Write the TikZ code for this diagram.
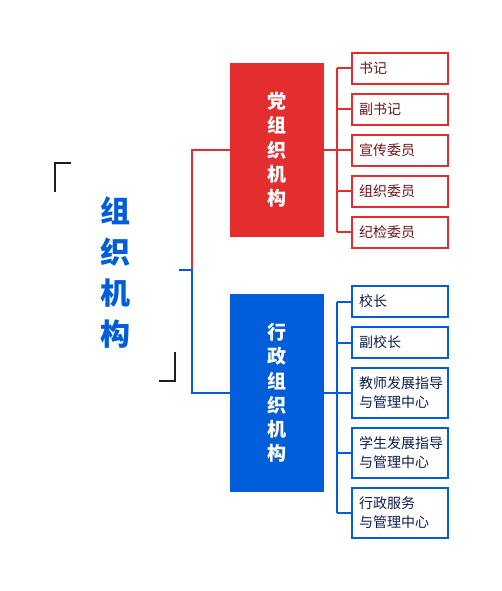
\documentclass[tikz,border=0pt]{standalone}
\usepackage{fontspec}
\setmainfont{Noto Sans CJK SC}
\usetikzlibrary{positioning,calc}
\definecolor{partyred}{RGB}{227,45,47}
\definecolor{adminblue}{RGB}{0,94,218}
\definecolor{partyink}{RGB}{110,20,25}
\definecolor{adminink}{RGB}{15,30,75}
\definecolor{bracketc}{RGB}{30,30,30}
\tikzset{
  headbox/.style={minimum width=94pt, inner sep=0pt, align=center, text=white,
                  font=\fontsize{19}{24.3}\selectfont\bfseries},
  partyhead/.style={headbox, fill=partyred, minimum height=174pt},
  adminhead/.style={headbox, fill=adminblue, minimum height=198pt},
  itembase/.style={draw, line width=2pt, fill=white, minimum height=31pt,
                   text width=82pt, inner xsep=7pt, inner ysep=0pt, align=left,
                   font=\fontsize{14}{19}\selectfont},
  partyitem/.style={itembase, draw=partyred, text=partyink},
  adminitem/.style={itembase, draw=adminblue, text=adminink},
  twoline/.style={minimum height=50pt},
  partyline/.style={line width=2pt, partyred},
  adminline/.style={line width=2pt, adminblue},
  bigtitle/.style={align=center, text=adminblue, inner sep=0pt,
                   font=\fontsize{30}{41}\selectfont\bfseries},
  bracket/.style={line width=2.5pt, bracketc}
}
\begin{document}
\begin{tikzpicture}[x=1pt, y=-1pt, node distance=8pt]
\useasboundingbox (0,0) rectangle (501,591);
% title and brackets
\node[bigtitle] (title) at (115,273) {组\\织\\机\\构};
\draw[bracket] (71,163) -- (55,163) -- (55,192);
\draw[bracket] (159,381) -- (175,381) -- (175,352);
% head boxes
\node[partyhead] (party) at (277,150) {党\\组\\织\\机\\构};
\node[adminhead] (admin) at (277,393) {行\\政\\组\\织\\机\\构};
% party members
\node[partyitem, anchor=north west] (p1) at (351,51.7) {书记};
\node[partyitem, below=of p1] (p2) {副书记};
\node[partyitem, below=of p2] (p3) {宣传委员};
\node[partyitem, below=of p3] (p4) {组织委员};
\node[partyitem, below=of p4] (p5) {纪检委员};
% admin units
\node[adminitem, anchor=north west] (a1) at (351,285) {校长};
\node[adminitem, below=of a1] (a2) {副校长};
\node[adminitem, twoline, below=of a2] (a3) {教师发展指导\\与管理中心};
\node[adminitem, twoline, below=of a3] (a4) {学生发展指导\\与管理中心};
\node[adminitem, twoline, below=of a4] (a5) {行政服务\\与管理中心};
% trunk
\coordinate (fork) at (192,270);
\coordinate (stub) at (179,270);
\draw[partyline] (fork) |- (party.west);
\draw[adminline] (stub) -- (fork) |- (admin.west);
% buses
\coordinate (pbus) at ($(party.east)+(13,0)$);
\coordinate (abus) at ($(admin.east)+(13,0)$);
\draw[partyline] (party.east) -- (pbus);
\draw[adminline] (admin.east) -- (abus);
\draw[partyline] (pbus |- p1.west) -- (pbus |- p5.west);
\draw[adminline] (abus |- a1.west) -- (abus |- a5.west);
\foreach \i in {1,...,5} {
  \draw[partyline] (pbus |- p\i.west) -- (p\i.west);
  \draw[adminline] (abus |- a\i.west) -- (a\i.west);
}
\end{tikzpicture}
\end{document}
